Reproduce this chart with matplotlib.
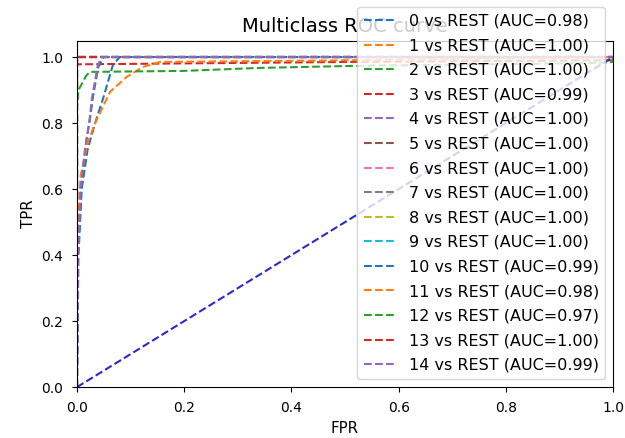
import matplotlib
matplotlib.use("Agg")
import matplotlib.pyplot as plt

plt.rcParams['font.size'] = 10
plt.rcParams['xtick.major.size'] = 3.4
plt.rcParams['ytick.major.size'] = 3.4
plt.rcParams['xtick.major.pad'] = 6.8
plt.rcParams['ytick.major.pad'] = 6.5

labels = [f"{i} vs REST" for i in range(15)]
aucs = [0.98, 1.00, 1.00, 0.99, 1.00, 1.00, 1.00, 1.00, 1.00, 1.00,
        0.99, 0.98, 0.97, 1.00, 0.99]

step_fpr = [0.0, 0.0, 1.0]
step_tpr = [0.0, 1.0, 1.0]

fpr0 = [0.0, 0.003, 0.009, 0.02, 0.034, 0.049, 0.067, 0.08, 1.0]
tpr0 = [0.0, 0.4, 0.6, 0.72, 0.8, 0.875, 0.975, 1.0, 1.0]
fpr3 = [0.0, 0.0, 0.011, 0.5, 1.0, 1.0]
tpr3 = [0.0, 0.978, 0.978, 0.985, 0.99, 1.0]
fpr10 = [0.0, 0.002, 0.008, 0.018, 0.025, 0.03, 0.04, 0.05, 1.0]
tpr10 = [0.0, 0.4, 0.6, 0.75, 0.82, 0.88, 0.97, 1.0, 1.0]
fpr11 = [0.0, 0.001, 0.007, 0.02, 0.034, 0.062, 0.093, 0.123, 0.155, 0.5, 1.0]
tpr11 = [0.0, 0.45, 0.64, 0.74, 0.8, 0.895, 0.94, 0.97, 0.985, 0.99, 1.0]
fpr12 = [0.0, 0.0, 0.003, 0.018, 0.025, 0.2, 0.34, 0.51, 0.97, 1.0, 1.0]
tpr12 = [0.0, 0.85, 0.9, 0.945, 0.955, 0.958, 0.967, 0.973, 0.982, 0.985, 1.0]
fpr14 = [0.0, 0.002, 0.007, 0.015, 0.023, 0.028, 0.039, 0.046, 1.0]
tpr14 = [0.0, 0.4, 0.6, 0.72, 0.8, 0.875, 0.975, 1.0, 1.0]

fprs = [fpr0, step_fpr, step_fpr, fpr3, step_fpr, step_fpr, step_fpr, step_fpr,
        step_fpr, step_fpr, fpr10, fpr11, fpr12, step_fpr, fpr14]
tprs = [tpr0, step_tpr, step_tpr, tpr3, step_tpr, step_tpr, step_tpr, step_tpr,
        step_tpr, step_tpr, tpr10, tpr11, tpr12, step_tpr, tpr14]

fig = plt.figure(figsize=(6.25, 4.38), dpi=100)
ax = fig.add_axes([0.123, 0.116, 0.858, 0.7915])

colors = plt.rcParams['axes.prop_cycle'].by_key()['color']
for i in range(15):
    ax.plot(fprs[i], tprs[i], linestyle='--', color=colors[i % 10],
            label=f"{labels[i]} (AUC={aucs[i]:.2f})")

ax.plot([0, 1], [0, 1], '--', color='#2a2ad2')

ax.set_xlim(0, 1)
ax.set_ylim(0, 1.05)
ax.set_title("Multiclass ROC curve", fontsize=14)
ax.set_xlabel("FPR", fontsize=10.8)
ax.set_ylabel("TPR", fontsize=10.8)
ax.legend(loc='lower right', fontsize=11.5, labelspacing=0.6)

fig.savefig("out.png", dpi=100)
